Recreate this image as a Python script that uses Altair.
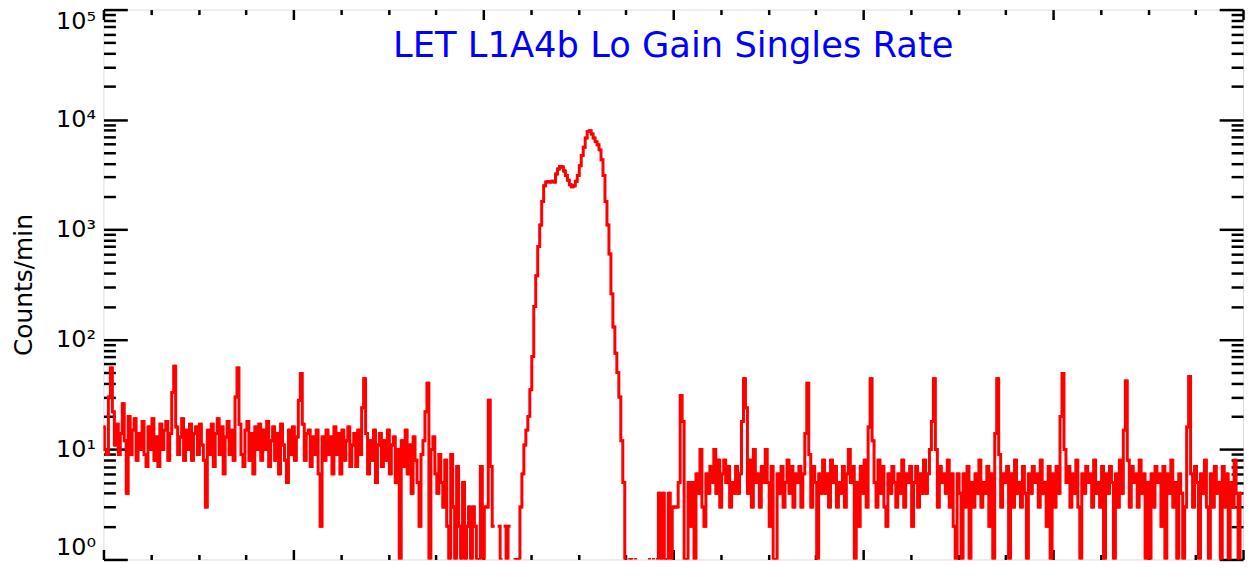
import altair as alt
import pandas as pd

# ---- data (counts per channel; None = zero count, not drawn on log axis)
left_noise = [
    16, 10, 9, 30, 55, 22, 11, 17, 9, 14, 26, 12, 4, 20, 9, 15,
    19, 8, 14, 10, 18, 9, 7, 16, 10, 19, 8, 13, 7, 17, 10, 15,
    18, 8, 14, 33, 57, 16, 9, 13, 19, 8, 15, 10, 17, 8, 14, 16,
    9, 17, 11, 8, 3, 15, 9, 17, 7, 14, 19, 9, 16, 6, 13, 18,
    9, 15, 8, 30, 55, 17, 9, 7, 15, 18, 8, 14, 6, 16, 10, 17,
    8, 15, 10, 18, 7, 12, 16, 8, 14, 6, 17, 11, 8, 5, 15, 9,
    16, 8, 13, 28, 49, 17, 8, 14, 15, 7, 13, 9, 15, 6, 2, 13,
    8, 15, 9, 13, 6, 16, 9, 14, 6, 15, 8, 12, 16, 7, 11, 14,
    7, 15, 9, 24, 44, 14, 6, 12, 8, 15, 5, 11, 14, 7, 12, 8,
    15, 6, 11, 13, 5, 10, 1, 12, 7, 15, 6, 11, 4, 13, 8, 5,
    2, 9, 12, 22, 40, 1, 10, 13, 6, 4, 9, 5, 3, 8, 2, 1,
    9, 3, 1, 7, 2, 1, 5, 1, 2, 3, 1, 3, 2, 1, 1, 7,
    1, 3, 3, 28,
]
pre_gap = [7, 2, None, None, 2, 1, None, 2, 1, 2, None, None, 1, 1]
peak = [
    1, 3, 6, 11, 15, 20, 35, 70, 200, 380,
    700, 1100, 1800, 2500, 2700, 2720, 2700, 2750, 2700, 3200,
    3550, 3750, 3700, 3400, 3100, 2800, 2550, 2450, 2500, 2750,
    3100, 3800, 4700, 5600, 6800, 7800, 7900, 7400, 6800, 6300,
    5900, 5300, 4300, 3100, 1800, 1100, 600, 260, 130, 75,
    50, 30, 12, 5, 1,
]
post_gap = [None, 1, 1, None, 1, None, None, None, None, None, None, 1,
            None, 1, None, 1, 4, 1, 4, 1, 1, 4, 1]
right_noise = [
    3, 3, 3, 5, 31, 18, 1, 1, 5, 2, 5, 1, 6, 4, 10, 3,
    2, 6, 4, 7, 5, 10, 4, 8, 3, 6, 8, 5, 7, 3, 5, 4,
    7, 4, 6, 18, 44, 24, 4, 8, 3, 10, 5, 6, 3, 7, 5, 10,
    5, 2, 7, 1, 1, 6, 4, 7, 3, 5, 8, 4, 7, 3, 6, 5,
    7, 3, 6,
    14, 40, 9, 3, 7, 5, 1, 6, 4, 8, 4, 6, 3, 8, 5, 7,
    3, 5, 4, 7, 3, 6, 10, 5, 7, 1, 5, 2, 7, 4, 8, 3,
    16, 44, 12, 5, 3, 8, 4, 7, 3, 2, 6, 4, 7, 5, 3, 6,
    4, 8, 3, 6, 5, 7, 2, 5, 7, 3, 6, 4, 8, 4, 6, 10,
    18, 44, 10, 3, 7, 5, 6, 4, 8, 3, 6, 2, 1, 6, 4, 1,
    6, 3, 7, 1, 5, 3, 6, 4, 8, 3, 5, 4, 7, 2, 6, 1,
    14, 44, 9, 3, 6, 5, 7, 1, 6, 3, 8, 4, 5, 3, 7, 4,
    1, 6, 4, 7, 5, 6, 3, 8, 4, 5, 2, 7, 1, 6, 3, 7,
    4, 20, 49, 10, 5, 7, 3, 6, 4, 8, 3, 1, 6, 4, 7, 5,
    6, 3, 8, 4, 5, 3, 7, 1, 6, 4, 7, 5, 1, 6, 3, 8,
    4, 15, 42, 8, 3, 7, 5, 6, 3, 8, 4, 6, 1, 5, 1, 6,
    3, 7, 5, 6, 2, 7, 1, 6, 4, 8, 3, 5, 1, 6, 4, 1,
    3, 16, 46, 6, 3, 7, 5, 1, 6, 4, 8, 3, 1, 6, 3, 7,
    4, 5, 1, 7, 3, 6, 1, 5, 3, 8, 4, 1, 4,
]

x_major = [0, 96, 192, 288, 384, 480, 576]
x_minor = [24, 48, 72, 120, 144, 168, 216, 240, 264, 312, 336, 360,
           408, 432, 456, 504, 528, 552]
y_major = [1, 10, 100, 1000, 10000, 100000]
y_minor = [2, 3, 4, 5, 6, 7, 8, 9,
           20, 30, 40, 50, 60, 70, 80, 90,
           200, 300, 400, 500, 600, 700, 800, 900,
           2000, 3000, 4000, 5000, 6000, 7000, 8000, 9000,
           20000, 30000, 40000, 50000, 60000, 70000, 80000, 90000]
y_labels = ["10\u2070", "10\u00b9", "10\u00b2", "10\u00b3", "10\u2074", "10\u2075"]

title_text = "LET L1A4b Lo Gain Singles Rate"
y_title = "Counts/min"

counts = left_noise + pre_gap + peak + post_gap + right_noise
df = pd.DataFrame({"channel": list(range(len(counts))), "rate": counts})

FONT = "DejaVu Sans"
xscale = alt.Scale(domain=[0, 576], nice=False, zero=False)
yscale = alt.Scale(type="log", domain=[1, 100000], nice=False)

label_expr = " : ".join(
    f"datum.value == {v} ? '{lab}'" for v, lab in zip(y_major, y_labels)
) + " : ''"


def tick_axis(orient, values, size):
    return alt.Axis(orient=orient, values=values, labels=False, ticks=True,
                    tickSize=size, tickWidth=2.5, tickColor="black",
                    domain=False, grid=False, offset=-size, title=None)


label_axis = alt.Axis(orient="left", values=y_major, labelExpr=label_expr,
                      ticks=False, tickSize=0, domain=False, grid=False,
                      labelFont=FONT, labelFontSize=24, labelColor="black",
                      labelPadding=8, labelFlush=True,
                      title=y_title, titleFont=FONT, titleFontSize=25,
                      titleFontWeight="normal", titleColor="black",
                      titlePadding=19)

base = alt.Chart(df)


def enc(xaxis, yaxis):
    return dict(
        x=alt.X("channel:Q", scale=xscale, axis=xaxis),
        y=alt.Y("rate:Q", scale=yscale, axis=yaxis),
    )


line = base.mark_line(color="#ff0000", strokeWidth=3, clip=True,
                      interpolate="step").encode(
    **enc(tick_axis("top", x_major, 10), label_axis))
dots = base.mark_square(color="#ff0000", size=9, opacity=1, clip=True).encode(
    **enc(tick_axis("top", x_minor, 5), tick_axis("left", y_major, 24)))
inv1 = base.mark_point(opacity=0).encode(
    **enc(tick_axis("bottom", x_major, 10), tick_axis("left", y_minor, 12)))
inv2 = base.mark_point(opacity=0).encode(
    **enc(tick_axis("bottom", x_minor, 5), tick_axis("right", y_major, 24)))
inv3 = base.mark_point(opacity=0).encode(
    **enc(None, tick_axis("right", y_minor, 12)))

chart = alt.layer(line, dots, inv1, inv2, inv3).resolve_axis(
    x="independent", y="independent"
).properties(
    width=1146,
    height=553,
    autosize=alt.AutoSizeParams(type="none"),
    padding={"left": 96, "top": 0, "right": 3, "bottom": 6},
    title=alt.TitleParams(text=title_text, color="#0000ff", fontSize=35.5,
                          font=FONT, fontWeight="normal", anchor="middle",
                          frame="group", offset=-49, dy=35,
                          baseline="alphabetic"),
).configure_view(
    stroke="black", strokeWidth=3
).configure(background="white")

chart.save("out.html", embed_options={"renderer": "svg", "actions": False})
